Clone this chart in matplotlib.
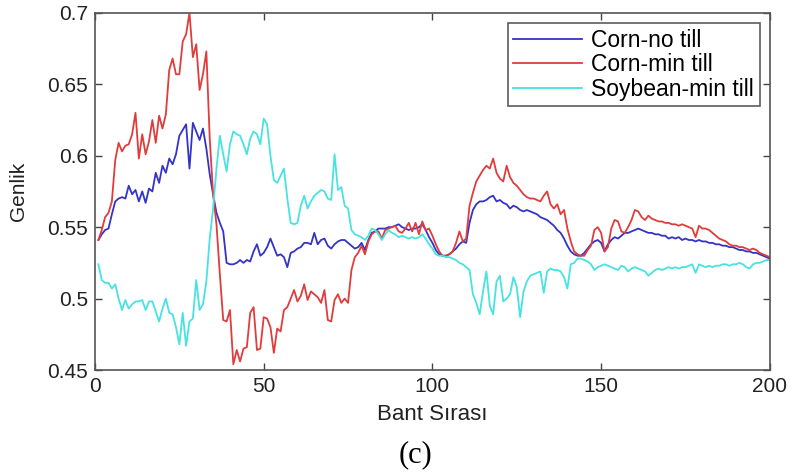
import numpy as np
import matplotlib
matplotlib.use("Agg")
import matplotlib.pyplot as plt
from matplotlib.ticker import FixedLocator, FixedFormatter

plt.rcParams['font.family'] = ['Liberation Sans', 'DejaVu Sans']

# band index 1..200
bands = np.arange(1, 201)

corn_no_till = [
    0.541, 0.545, 0.548, 0.549, 0.559, 0.568, 0.570, 0.571, 0.570, 0.579,
    0.573, 0.576, 0.568, 0.575, 0.567, 0.577, 0.575, 0.588, 0.581, 0.593,
    0.588, 0.598, 0.594, 0.601, 0.614, 0.618, 0.622, 0.591, 0.623, 0.617,
    0.611, 0.619, 0.605, 0.587, 0.573, 0.560, 0.553, 0.547, 0.525, 0.524,
    0.524, 0.525, 0.527, 0.525, 0.527, 0.526, 0.533, 0.538, 0.530, 0.532,
    0.536, 0.542, 0.536, 0.530, 0.531, 0.529, 0.522, 0.532, 0.533, 0.535,
    0.536, 0.539, 0.539, 0.538, 0.546, 0.538, 0.541, 0.542, 0.537, 0.535,
    0.538, 0.540, 0.541, 0.541, 0.539, 0.537, 0.535, 0.536, 0.539, 0.534,
    0.541, 0.546, 0.547, 0.549, 0.549, 0.549, 0.550, 0.550, 0.551, 0.552,
    0.550, 0.549, 0.548, 0.549, 0.549, 0.550, 0.552, 0.548, 0.543, 0.539,
    0.534, 0.531, 0.530, 0.530, 0.531, 0.533, 0.535, 0.538, 0.540, 0.539,
    0.553, 0.562, 0.566, 0.568, 0.568, 0.569, 0.571, 0.572, 0.568, 0.569,
    0.567, 0.566, 0.563, 0.565, 0.564, 0.562, 0.561, 0.562, 0.561, 0.560,
    0.559, 0.557, 0.556, 0.555, 0.553, 0.551, 0.548, 0.546, 0.542, 0.537,
    0.533, 0.531, 0.530, 0.530, 0.532, 0.535, 0.538, 0.540, 0.541, 0.539,
    0.533, 0.538, 0.541, 0.543, 0.542, 0.544, 0.546, 0.546, 0.547, 0.548,
    0.549, 0.548, 0.547, 0.546, 0.546, 0.545, 0.545, 0.544, 0.544, 0.542,
    0.543, 0.542, 0.543, 0.541, 0.542, 0.541, 0.541, 0.540, 0.541, 0.540,
    0.540, 0.539, 0.539, 0.538, 0.538, 0.537, 0.537, 0.536, 0.536, 0.535,
    0.534, 0.534, 0.533, 0.533, 0.532, 0.532, 0.531, 0.530, 0.529, 0.528,
]

corn_min_till = [
    0.541, 0.548, 0.557, 0.560, 0.568, 0.597, 0.609, 0.603, 0.607, 0.608,
    0.615, 0.630, 0.598, 0.615, 0.601, 0.610, 0.625, 0.609, 0.628, 0.619,
    0.629, 0.660, 0.668, 0.657, 0.657, 0.680, 0.685, 0.700, 0.669, 0.678,
    0.646, 0.657, 0.673, 0.612, 0.573, 0.552, 0.517, 0.485, 0.484, 0.492,
    0.454, 0.464, 0.456, 0.465, 0.466, 0.490, 0.494, 0.464, 0.465, 0.487,
    0.486, 0.480, 0.462, 0.479, 0.477, 0.492, 0.494, 0.500, 0.506, 0.498,
    0.502, 0.510, 0.499, 0.505, 0.503, 0.501, 0.497, 0.506, 0.485, 0.484,
    0.499, 0.503, 0.497, 0.500, 0.497, 0.520, 0.529, 0.532, 0.537, 0.531,
    0.540, 0.545, 0.547, 0.547, 0.542, 0.548, 0.549, 0.550, 0.551, 0.547,
    0.546, 0.549, 0.553, 0.547, 0.553, 0.545, 0.554, 0.548, 0.549, 0.544,
    0.538, 0.533, 0.530, 0.530, 0.531, 0.533, 0.539, 0.547, 0.540, 0.542,
    0.565, 0.574, 0.582, 0.586, 0.590, 0.593, 0.591, 0.598, 0.588, 0.584,
    0.582, 0.593, 0.585, 0.581, 0.579, 0.576, 0.573, 0.571, 0.570, 0.570,
    0.569, 0.568, 0.572, 0.575, 0.566, 0.563, 0.566, 0.559, 0.562, 0.549,
    0.540, 0.533, 0.531, 0.530, 0.530, 0.534, 0.537, 0.548, 0.550, 0.546,
    0.533, 0.536, 0.549, 0.555, 0.554, 0.547, 0.546, 0.550, 0.555, 0.562,
    0.561, 0.557, 0.555, 0.558, 0.556, 0.555, 0.554, 0.554, 0.553, 0.553,
    0.552, 0.552, 0.551, 0.552, 0.551, 0.550, 0.549, 0.543, 0.551, 0.549,
    0.549, 0.548, 0.546, 0.544, 0.542, 0.541, 0.540, 0.538, 0.537, 0.537,
    0.536, 0.536, 0.535, 0.534, 0.535, 0.534, 0.532, 0.531, 0.530, 0.529,
]

soybean_min_till = [
    0.524, 0.513, 0.511, 0.511, 0.507, 0.510, 0.500, 0.492, 0.499, 0.493,
    0.496, 0.498, 0.498, 0.499, 0.492, 0.498, 0.498, 0.491, 0.484, 0.493,
    0.500, 0.490, 0.489, 0.480, 0.468, 0.490, 0.467, 0.484, 0.486, 0.513,
    0.492, 0.496, 0.512, 0.542, 0.563, 0.591, 0.614, 0.601, 0.589, 0.608,
    0.617, 0.615, 0.614, 0.608, 0.601, 0.612, 0.617, 0.615, 0.608, 0.626,
    0.622, 0.600, 0.583, 0.581, 0.586, 0.591, 0.570, 0.553, 0.552, 0.553,
    0.565, 0.572, 0.563, 0.568, 0.572, 0.574, 0.576, 0.575, 0.570, 0.569,
    0.601, 0.576, 0.578, 0.565, 0.563, 0.548, 0.545, 0.544, 0.543, 0.541,
    0.544, 0.549, 0.548, 0.545, 0.541, 0.545, 0.548, 0.546, 0.545, 0.543,
    0.544, 0.543, 0.542, 0.543, 0.542, 0.543, 0.545, 0.542, 0.538, 0.535,
    0.531, 0.530, 0.530, 0.529, 0.529, 0.528, 0.527, 0.525, 0.524, 0.522,
    0.520, 0.503, 0.497, 0.489, 0.505, 0.519, 0.495, 0.489, 0.512, 0.516,
    0.498, 0.500, 0.503, 0.515, 0.508, 0.487, 0.505, 0.512, 0.516, 0.517,
    0.518, 0.519, 0.504, 0.519, 0.521, 0.520, 0.520, 0.519, 0.515, 0.507,
    0.524, 0.525, 0.528, 0.528, 0.527, 0.526, 0.524, 0.520, 0.522, 0.523,
    0.524, 0.523, 0.522, 0.521, 0.520, 0.523, 0.522, 0.519, 0.521, 0.522,
    0.521, 0.520, 0.519, 0.516, 0.518, 0.520, 0.521, 0.520, 0.521, 0.522,
    0.521, 0.522, 0.521, 0.522, 0.522, 0.523, 0.524, 0.518, 0.524, 0.523,
    0.522, 0.523, 0.522, 0.523, 0.523, 0.524, 0.524, 0.523, 0.524, 0.524,
    0.525, 0.524, 0.522, 0.521, 0.524, 0.525, 0.525, 0.526, 0.527, 0.527,
]

series_names = ['Corn-no till', 'Corn-min till', 'Soybean-min till']
colors = ['#3333c8', '#e03c3c', '#48e2e2']

xticks = [0, 50, 100, 150, 200]
yticks = [0.45, 0.5, 0.55, 0.6, 0.65, 0.7]
ytick_labels = ['0.45', '0.5', '0.55', '0.6', '0.65', '0.7']

fig = plt.figure(figsize=(7.93, 4.75), dpi=100)
ax = fig.add_axes([0.1198, 0.221, 0.851, 0.752])

for vals, name, c in zip([corn_no_till, corn_min_till, soybean_min_till], series_names, colors):
    ax.plot(bands, vals, color=c, linewidth=1.3, label=name)

ax.set_xlim(0, 200)
ax.set_ylim(0.45, 0.7)
ax.xaxis.set_major_locator(FixedLocator(xticks))
ax.yaxis.set_major_locator(FixedLocator(yticks))
ax.yaxis.set_major_formatter(FixedFormatter(ytick_labels))
ax.tick_params(direction='in', length=5, width=1, colors='#444444',
               top=True, right=True, labelsize=15, labelcolor='#222222', pad=5)
for s in ax.spines.values():
    s.set_color('#555555')
    s.set_linewidth(1.2)

ax.set_xlabel('Bant Sırası', fontsize=16, color='#222222', labelpad=6)
ax.set_ylabel('Genlik', fontsize=15, color='#222222', labelpad=14)

leg = ax.legend(loc='upper right', bbox_to_anchor=(0.985, 0.971), borderaxespad=0,
                fontsize=16.5, frameon=True, fancybox=False, handlelength=3.0,
                handletextpad=0.4, labelspacing=0.06, borderpad=0.25)
leg.get_frame().set_edgecolor('#333333')
leg.get_frame().set_linewidth(1.2)

fig.text(0.524, 0.042, '(c)', ha='center', va='center', fontsize=22,
         family=['Liberation Serif', 'DejaVu Serif'])

fig.savefig('out.png', dpi=100)
